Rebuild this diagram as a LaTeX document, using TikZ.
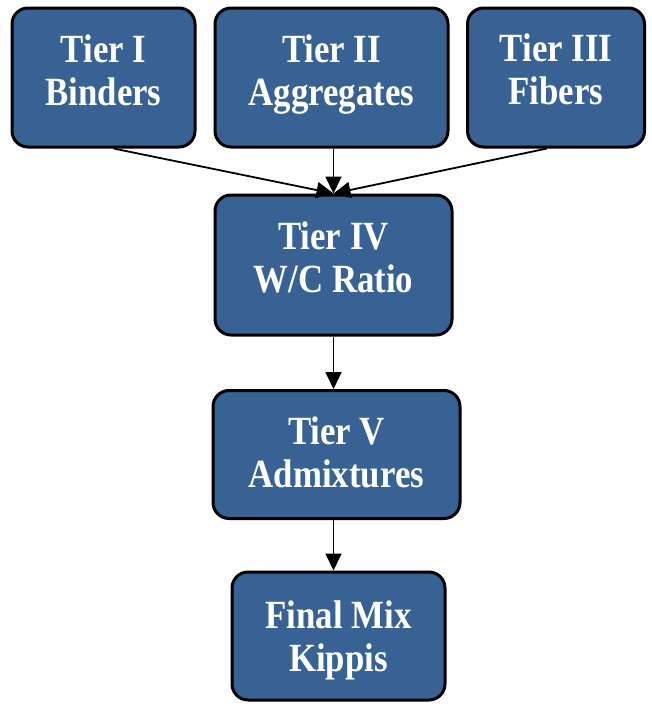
\documentclass[tikz,border=0pt]{standalone}
\usepackage{fontspec}
\setmainfont{Liberation Serif}
\newfontfamily\tierfont{Liberation Serif}[FakeStretch=0.87]
\usetikzlibrary{positioning}
\usetikzlibrary{arrows.meta}
\definecolor{tierblue}{RGB}{56,98,148}
\tikzset{
    tierbox/.style = {rectangle, rounded corners=16pt, line width=3pt, draw=black, fill=tierblue, inner sep=0pt},
    tiertext/.style = {yshift=#1, text=white, align=center, inner sep=0pt,
                       font=\tierfont\fontsize{40}{43}\selectfont\bfseries},
    tiertext/.default = 8pt,
    edgen/.style = {-{Triangle[length=17pt,width=16pt]}, line width=1.8pt},
}

\begin{document}
\begin{tikzpicture}[x=1pt,y=-1pt]
\useasboundingbox (0,0) rectangle (652,704);
\node[tierbox, minimum width=183pt, minimum height=139pt, label={[tiertext=7.5pt]center:{Tier I\\Binders}}] at (103.5, 77.5) (t1) {};
\node[tierbox, minimum width=233pt, minimum height=139pt, label={[tiertext=3pt]center:{Tier II\\Aggregates}}] at (331.5, 77.5) (t2) {};
\node[tierbox, minimum width=177pt, minimum height=139pt, label={[tiertext=8pt]center:{Tier III\\Fibers}}] at (556.0, 77.5) (t3) {};
\node[tierbox, minimum width=237pt, minimum height=140pt, label={[tiertext=8pt]center:{Tier IV\\W/C Ratio}}] at (333.5, 265.0) (t4) {};
\node[tierbox, minimum width=247pt, minimum height=128pt, label={[tiertext=2pt]center:{Tier V\\Admixtures}}] at (336.5, 454.5) (t5) {};
\node[tierbox, minimum width=213pt, minimum height=128pt, label={[tiertext=-4pt]center:{Final Mix\\Kippis}}] at (338.5, 636.0) (t6) {};
%
\draw[edgen] ([xshift=10pt]t1.south) -- (t4.north);
\draw[edgen] (t2.south -| t4.north) -- (t4.north);
\draw[edgen] ([xshift=-9pt]t3.south) -- (t4.north);
\draw[edgen] (t4.south) -- (t4.south |- t5.north);
\draw[edgen] (t5.south -| t4.south) -- (t6.north -| t4.south);
\end{tikzpicture}
\end{document}
